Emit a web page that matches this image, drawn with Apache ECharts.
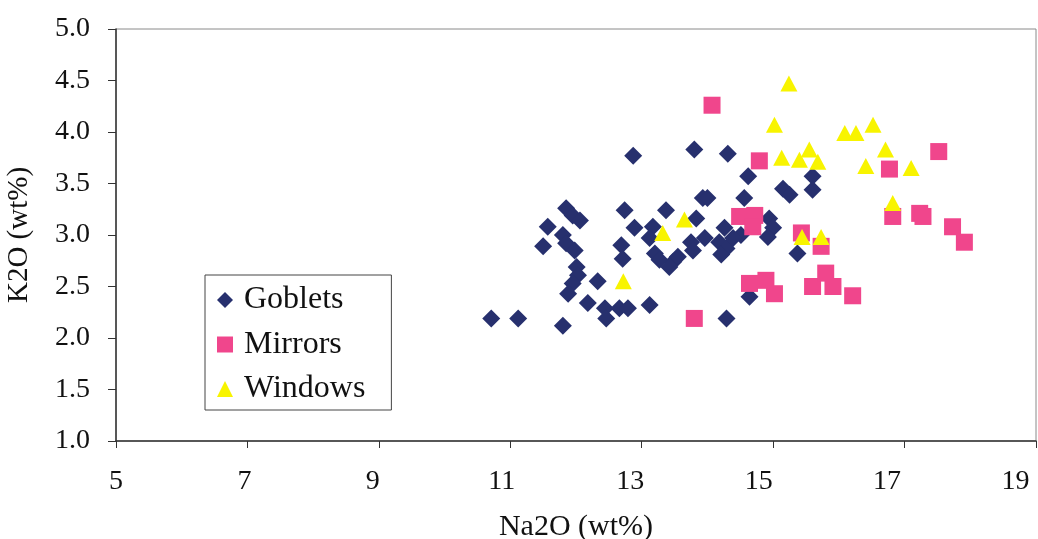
<!DOCTYPE html>
<html><head><meta charset="utf-8">
<script src="https://cdn.jsdelivr.net/npm/echarts@6/dist/echarts.min.js"></script>
<style>html,body{margin:0;padding:0;background:#fff}#c{width:1038px;height:539px}</style>
</head><body><div id="c"></div>
<script>
// Goblets
const gobletNa = [10.71,11.12,11.80,11.85,11.95,12.06,11.57,11.50,11.80,11.85,11.98,12.01,12.03,11.95,11.88,12.33,12.18,12.44,12.46,12.66,12.79,13.12,12.87,12.74,13.37,12.89,13.17,12.69,12.71,13.12,13.20,13.27,13.48,13.42,13.55,13.75,13.96,13.78,13.83,13.93,14.00,13.80,14.31,14.56,14.62,14.18,14.26,14.29,14.21,14.51,14.39,14.94,15.00,14.92,15.15,15.25,15.60,15.60,15.37,14.64,14.29];
const gobletK  = [2.19,2.19,2.12,3.26,3.19,3.14,3.08,2.89,3.00,2.92,2.85,2.69,2.61,2.53,2.43,2.55,2.34,2.29,2.19,2.29,2.29,2.32,3.77,3.24,3.24,3.07,3.08,2.90,2.77,2.97,2.82,2.76,2.74,2.69,2.79,2.93,2.97,2.85,3.16,3.36,3.36,3.83,3.79,3.36,3.57,2.93,3.07,2.87,2.81,3.00,2.97,3.16,3.07,2.98,3.45,3.39,3.57,3.44,2.82,2.40,2.19];
// Mirrors
const mirrorNa = [14.07,14.79,14.49,14.72,14.69,15.43,15.73,14.64,14.89,15.02,15.60,15.80,15.91,16.21,13.80,16.77,17.52,16.82,17.23,17.28,17.73,17.91];
const mirrorK  = [4.26,3.72,3.18,3.19,3.08,3.02,2.89,2.53,2.56,2.43,2.50,2.63,2.50,2.41,2.19,3.64,3.81,3.18,3.21,3.18,3.08,2.93];
// Windows
const windowNa = [15.24,15.02,15.13,15.40,15.55,15.68,16.09,16.26,16.52,16.71,16.41,17.10,16.82,13.65,13.32,15.44,15.73,12.72];
const windowK  = [4.47,4.07,3.75,3.73,3.83,3.71,3.99,3.99,4.07,3.83,3.67,3.65,3.31,3.15,3.02,2.98,2.98,2.55];
// Axes
const xTicks = [5,7,9,11,13,15,17,19];
const yTicks = [1.0,1.5,2.0,2.5,3.0,3.5,4.0,4.5,5.0];
const seriesNames = ['Goblets','Mirrors','Windows'];
const xTitle = 'Na2O (wt%)';
const yTitle = 'K2O (wt%)';

const pairs = (xs, ys) => xs.map((x, i) => [x, ys[i]]);
const FONT = 'Liberation Serif';
const chart = echarts.init(document.getElementById('c'), null, {renderer: 'canvas'});

const xRich = {};
xTicks.forEach(v => { xRich['t' + v] = {fontFamily: FONT, fontSize: 28, color: '#111', padding: [0, Math.round((v - 5) * 2.9), 0, 0]}; });

chart.setOption({
  animation: false,
  backgroundColor: '#fff',
  grid: {left: 116, top: 29, width: 920, height: 412, show: true, borderColor: '#8a8a8a', borderWidth: 1,
         containLabel: false, outerBoundsMode: 'none'},
  legend: {
    data: seriesNames,
    orient: 'vertical',
    left: 205, top: 275,
    padding: [9, 26, 5, 12],
    itemWidth: 16, itemHeight: 16, itemGap: 12.5,
    borderColor: '#444', borderWidth: 1,
    backgroundColor: '#fff',
    textStyle: {fontFamily: FONT, fontSize: 32, color: '#111', lineHeight: 32, padding: [0, 0, 0, 6]}
  },
  xAxis: {
    type: 'value', min: xTicks[0], max: xTicks[xTicks.length - 1], interval: 2,
    name: xTitle, nameLocation: 'middle', nameGap: 71,
    nameTextStyle: {fontFamily: FONT, fontSize: 30, color: '#111'},
    axisLine: {show: true, lineStyle: {color: '#333', width: 1.5}},
    axisTick: {show: true, inside: false, length: 7, lineStyle: {color: '#333'}},
    axisLabel: {margin: 27, fontFamily: FONT, fontSize: 28, color: '#111',
      formatter: v => '{t' + v + '|' + v + '}', rich: xRich},
    splitLine: {show: false}
  },
  yAxis: {
    type: 'value', min: yTicks[0], max: yTicks[yTicks.length - 1], interval: 0.5,
    name: yTitle, nameLocation: 'middle', nameGap: 82, nameRotate: 90,
    nameTextStyle: {fontFamily: FONT, fontSize: 29, color: '#111'},
    axisLine: {show: true, lineStyle: {color: '#333', width: 1.5}},
    axisTick: {show: true, inside: false, length: 8, lineStyle: {color: '#333'}},
    axisLabel: {margin: 26, fontFamily: FONT, fontSize: 28, color: '#111', formatter: v => v.toFixed(1)},
    splitLine: {show: false}
  },
  series: [
    {name: seriesNames[0], type: 'scatter', symbol: 'diamond', symbolSize: 18,
     itemStyle: {color: '#27306e', opacity: 1}, data: pairs(gobletNa, gobletK)},
    {name: seriesNames[1], type: 'scatter', symbol: 'rect', symbolSize: 17,
     itemStyle: {color: '#f0468c', opacity: 1}, data: pairs(mirrorNa, mirrorK)},
    {name: seriesNames[2], type: 'scatter', symbol: 'triangle', symbolSize: [17, 16],
     itemStyle: {color: '#f8f400', opacity: 1}, data: pairs(windowNa, windowK)}
  ]
});
</script></body></html>
